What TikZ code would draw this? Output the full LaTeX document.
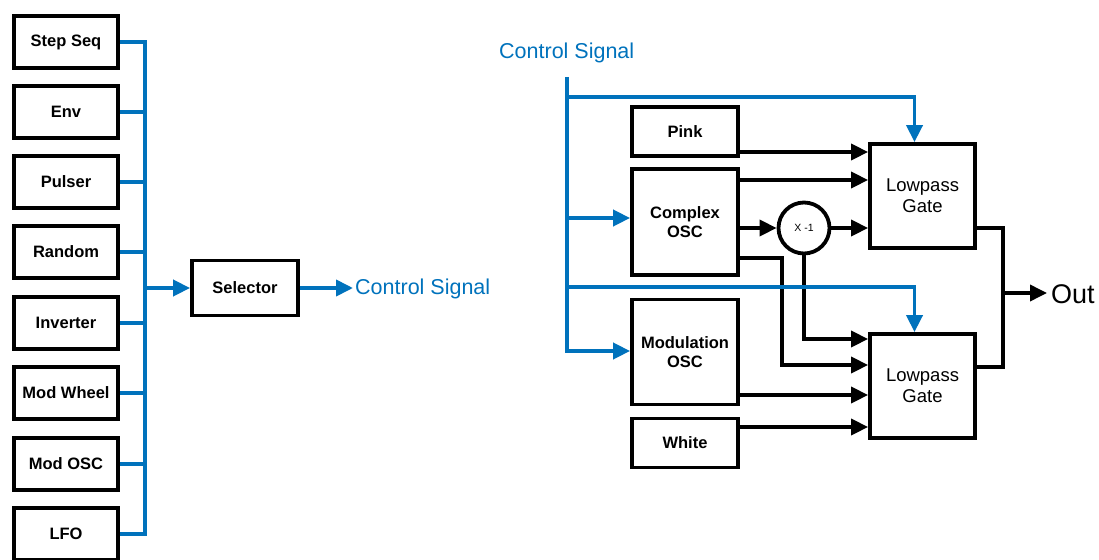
\documentclass[tikz,border=0pt]{standalone}
\usepackage{fontspec}
\setmainfont{Liberation Sans}
\usetikzlibrary{arrows.meta}
\definecolor{cblue}{RGB}{0,114,188}
\tikzset{
  box/.style={draw, line width=3.8pt, fill=white, inner sep=0pt, align=center,
    font=\fontsize{16.5}{19}\selectfont\bfseries},
  lbox/.style={box, minimum width=104pt, minimum height=52pt},
  gate/.style={draw, line width=3.8pt, fill=white, inner sep=0pt, align=center,
    minimum width=105pt, minimum height=104pt, font=\fontsize{18.5}{21}\selectfont},
  bl/.style={draw=cblue, line width=3.8pt},
  bk/.style={draw=black, line width=3.6pt},
  arr/.style={-{Triangle[length=17pt,width=16pt]}},
  lbl/.style={inner sep=0pt, anchor=west}
}
\begin{document}
\begin{tikzpicture}[x=1pt,y=-1pt]
\useasboundingbox (0,0) rectangle (1099,559);
% left column
\node[lbox] (b1) at (66,42) {Step Seq};
\node[lbox] (b2) at (66,112) {Env};
\node[lbox] (b3) at (66,182) {Pulser};
\node[lbox] (b4) at (66,252) {Random};
\node[lbox] (b5) at (66,323) {Inverter};
\node[lbox] (b6) at (66,393) {Mod Wheel};
\node[lbox] (b7) at (66,464) {Mod OSC};
\node[lbox] (b8) at (66,534) {LFO};
\coordinate (bus) at (145,288);
\node[box, minimum width=106pt, minimum height=55pt] (sel) at (245,288) {Selector};
\node[lbl, text=cblue, font=\fontsize{21.5}{25}\selectfont] (cs1) at (355,289) {Control Signal};
\draw[bl] (b1.east) -| (bus) |- (b8.east);
\foreach \b in {b2,b3,b4,b5,b6,b7} {\draw[bl] (\b.east) -- (\b.east -| bus);}
\draw[bl,arr] (bus) -- (sel.west);
\draw[bl,arr] (sel.east) -- ([xshift=-2pt]sel.east -| cs1.west);
% right part
\node[lbl, text=cblue, font=\fontsize{21.5}{25}\selectfont] (cs2) at (499,53) {Control Signal};
\node[box, minimum width=106pt, minimum height=49pt] (pink) at (685,131.5) {Pink};
\node[box, minimum width=106pt, minimum height=106pt] (cosc) at (685,222) {Complex\\OSC};
\node[box, minimum width=106pt, minimum height=105pt] (mosc) at (685,352) {Modulation\\OSC};
\node[box, minimum width=106pt, minimum height=49pt] (white) at (685,443) {White};
\node[gate] (lpg1) at (922.5,196) {Lowpass\\Gate};
\node[gate] (lpg2) at (922.5,386) {Lowpass\\Gate};
\node[draw, circle, line width=3.8pt, fill=white, minimum size=51pt, inner sep=0pt,
  font=\fontsize{10.5}{12}\selectfont] (neg) at (804,228) {X -1};
\node[lbl, font=\fontsize{27}{30}\selectfont] (out) at (1051,294) {Out};
\coordinate (ct) at (567,77);
\coordinate (j1) at (567,97);
\coordinate (j2) at (567,218);
\coordinate (j3) at (567,287);
\coordinate (k1) at (782,258);
\coordinate (ob) at (1003,293);
% black connectors
\draw[bk,arr] (pink.east |- 0,152) -- (lpg1.west |- 0,152);
\draw[bk,arr] (cosc.east |- 0,180) -- (lpg1.west |- 0,180);
\draw[bk,arr] (cosc.east |- neg.west) -- (neg.west);
\draw[bk,arr] (neg.east) -- (lpg1.west |- neg.east);
\draw[bk,arr] (cosc.east |- k1) -- (k1) |- (lpg2.west |- 0,365);
\draw[bk,arr] (neg.south) |- (lpg2.west |- 0,339);
\draw[bk,arr] (mosc.east |- 0,395) -- (lpg2.west |- 0,395);
\draw[bk,arr] (white.east |- 0,427) -- (lpg2.west |- 0,427);
\draw[bk] (lpg1.east |- 0,228) -| (ob) |- (lpg2.east |- 0,367);
\draw[bk,arr] (ob) -- ([xshift=-4pt]ob -| out.west);
% blue connectors
\draw[bl,arr] (ct) |- (mosc.west |- 0,351);
\draw[bl,arr] (j1) -| ([xshift=-8pt]lpg1.north);
\draw[bl,arr] (j2) -- (cosc.west |- j2);
\draw[bl,arr] (j3) -| ([xshift=-8pt]lpg2.north);
\end{tikzpicture}
\end{document}
